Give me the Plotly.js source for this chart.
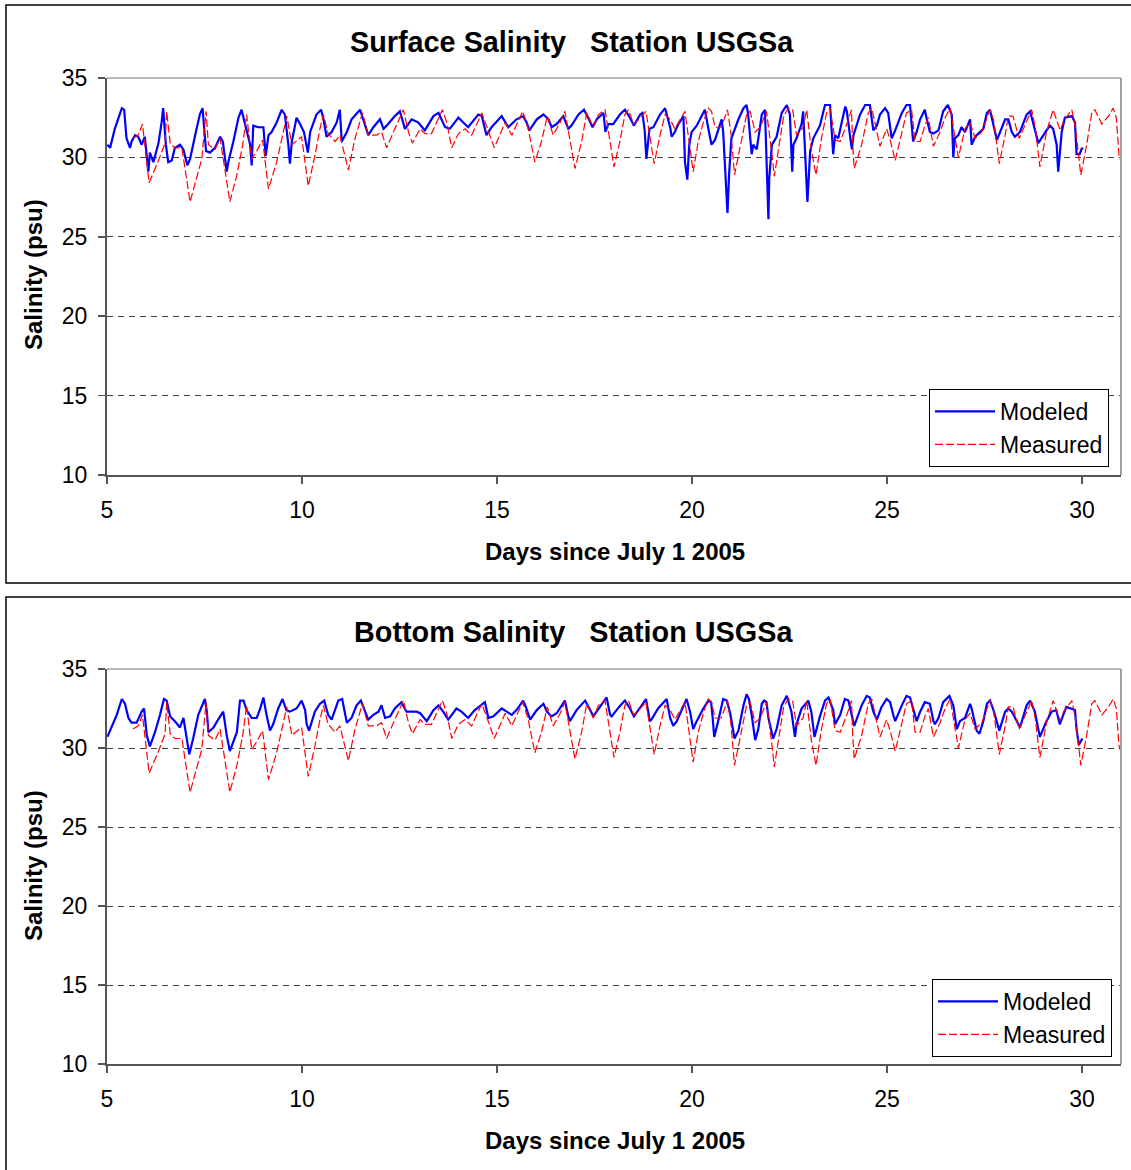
<!DOCTYPE html>
<html>
<head>
<meta charset="utf-8">
<script src="https://cdn.plot.ly/plotly-3.0.1.min.js"></script>
<style>html,body{margin:0;padding:0;background:#fff;}#chart{width:1131px;height:1170px;}</style>
</head>
<body>
<div id="chart"></div>
<script>
// ---- Data (days since July 1 2005, salinity psu) ----
// Measured salinity (identical record shown in both panels)
const measDay = [5.67,5.80,5.91,6.08,6.32,6.49,6.53,6.62,6.74,6.92,7.13,7.30,7.43,7.54,7.60,7.77,7.90,8.15,8.33,8.48,8.58,8.71,8.84,8.99,9.14,9.35,9.61,9.74,9.99,10.16,10.33,10.46,10.55,10.67,10.85,10.97,11.19,11.36,11.55,11.70,11.91,12.04,12.17,12.38,12.60,12.73,12.83,13.03,13.15,13.32,13.60,13.71,13.84,14.01,14.18,14.35,14.61,14.73,14.93,15.21,15.38,15.66,15.80,15.97,16.14,16.29,16.44,16.62,16.74,17.00,17.17,17.30,17.47,17.60,17.77,18.00,18.15,18.28,18.37,18.50,18.60,18.82,19.03,19.18,19.31,19.44,19.56,19.70,19.82,20.03,20.16,20.30,20.42,20.50,20.59,20.75,20.91,21.00,21.09,21.23,21.40,21.49,21.62,21.75,21.91,22.05,22.11,22.26,22.35,22.47,22.58,22.68,22.85,22.94,23.06,23.18,23.32,23.45,23.54,23.67,23.80,23.97,24.09,24.12,24.16,24.35,24.52,24.61,24.70,24.82,24.99,25.08,25.21,25.33,25.50,25.63,25.72,25.85,25.97,26.06,26.19,26.36,26.49,26.62,26.70,26.83,27.00,27.13,27.26,27.43,27.64,27.73,27.88,28.03,28.11,28.23,28.39,28.54,28.71,28.80,28.92,29.09,29.26,29.44,29.53,29.74,29.83,29.97,30.12,30.25,30.33,30.51,30.68,30.80,30.88,30.95,31.00];
const measSal = [31.2,31.4,32.1,28.4,29.8,30.9,32.9,30.9,30.6,30.6,27.2,28.7,29.9,32.9,30.8,30.5,31.2,27.2,28.9,30.8,32.7,29.9,30.4,31.1,28.0,29.7,32.6,30.8,31.3,28.2,30.1,31.8,32.7,31.5,31.0,31.4,29.2,31.2,32.8,31.4,31.4,31.6,30.6,31.8,33.0,31.6,30.9,31.8,31.5,31.5,33.0,32.2,30.6,31.5,31.8,31.4,32.8,32.0,30.6,32.2,31.4,32.9,31.8,29.7,31.0,32.6,31.4,32.2,32.9,29.3,31.0,32.8,31.9,32.7,33.0,29.4,31.0,32.7,33.0,32.1,32.3,32.9,29.6,31.4,32.7,32.4,31.8,32.4,32.9,29.1,31.0,32.3,33.1,32.9,31.9,31.9,33.0,31.5,28.9,30.6,32.7,32.9,31.6,31.9,32.9,30.2,28.8,31.2,32.6,33.1,33.0,31.4,31.9,33.0,30.5,28.9,31.2,32.8,33.1,31.1,31.0,32.1,33.0,30.8,29.3,30.8,32.8,33.1,32.0,30.7,31.8,31.1,29.8,31.0,32.8,33.0,31.0,31.0,32.0,32.5,30.7,31.6,32.5,33.1,32.0,30.0,31.8,32.2,31.2,31.6,33.0,32.4,29.6,31.4,32.6,32.6,31.2,32.0,33.0,31.9,29.4,31.6,33.0,31.7,32.3,33.0,31.9,28.9,30.8,32.8,33.0,32.1,32.6,33.1,32.5,30.1,29.8];

// Modeled surface salinity
const surfDay = [5.01,5.08,5.20,5.38,5.44,5.50,5.59,5.63,5.72,5.80,5.89,5.97,6.06,6.10,6.19,6.32,6.40,6.44,6.51,6.57,6.66,6.74,6.87,6.96,7.06,7.13,7.26,7.38,7.45,7.54,7.64,7.77,7.90,7.97,8.07,8.11,8.24,8.37,8.45,8.58,8.67,8.71,8.75,8.88,9.01,9.07,9.14,9.22,9.35,9.48,9.56,9.65,9.69,9.74,9.86,9.95,10.05,10.15,10.21,10.37,10.49,10.55,10.63,10.76,10.89,10.97,11.02,11.15,11.27,11.49,11.62,11.70,11.83,12.00,12.09,12.17,12.38,12.51,12.64,12.81,12.98,13.15,13.37,13.50,13.67,13.79,14.01,14.14,14.26,14.52,14.61,14.73,14.86,15.12,15.29,15.50,15.67,15.76,15.83,16.02,16.19,16.32,16.40,16.53,16.70,16.83,16.91,17.09,17.23,17.34,17.45,17.56,17.73,17.78,17.85,17.98,18.15,18.28,18.41,18.51,18.67,18.73,18.79,18.83,18.91,19.01,19.18,19.31,19.44,19.48,19.56,19.65,19.78,19.82,19.88,19.93,19.99,20.12,20.33,20.42,20.50,20.59,20.72,20.76,20.80,20.89,20.91,20.95,21.01,21.19,21.32,21.40,21.44,21.53,21.57,21.66,21.79,21.87,21.92,21.96,21.98,22.05,22.17,22.30,22.43,22.51,22.57,22.60,22.68,22.81,22.85,22.89,22.96,23.03,23.11,23.28,23.41,23.54,23.58,23.62,23.67,23.75,23.93,23.97,24.06,24.10,24.14,24.31,24.44,24.56,24.65,24.74,24.82,24.95,25.03,25.12,25.21,25.38,25.50,25.59,25.67,25.76,25.85,25.97,26.02,26.10,26.19,26.32,26.44,26.56,26.66,26.70,26.74,26.83,26.91,27.00,27.13,27.17,27.26,27.47,27.56,27.64,27.77,27.82,28.03,28.11,28.20,28.28,28.41,28.58,28.67,28.79,28.88,29.09,29.18,29.26,29.35,29.39,29.48,29.56,29.74,29.82,29.86,29.94,30.00,30.02];
const surfSal = [30.8,30.6,31.8,33.1,33.0,31.2,30.6,31.0,31.4,31.3,30.8,31.3,29.1,30.3,29.7,30.9,32.2,33.1,30.8,29.7,29.8,30.6,30.8,30.5,29.5,29.9,31.4,32.7,33.1,30.4,30.3,30.6,31.3,31.0,29.1,29.7,31.0,32.5,33.0,31.8,30.8,29.5,32.0,31.9,31.9,30.1,31.4,31.6,32.2,33.0,32.7,30.8,29.6,31.0,32.5,32.1,31.6,30.3,31.6,32.7,33.0,32.4,31.3,31.6,32.2,33.0,31.0,31.6,32.4,33.0,32.0,31.4,31.9,32.4,31.8,32.0,32.6,32.9,31.8,32.4,32.2,31.7,32.6,32.8,31.9,31.8,32.5,32.2,31.9,32.7,32.6,31.4,31.9,32.6,31.9,32.4,32.6,32.2,31.7,32.4,32.7,32.4,31.9,32.1,32.6,31.8,32.0,32.7,33.0,32.5,31.9,32.4,32.8,31.6,32.1,32.1,32.7,33.0,32.5,32.0,32.7,32.8,31.6,29.9,31.8,31.9,32.7,33.1,31.9,31.3,31.6,32.1,32.6,29.7,28.6,30.8,31.6,32.0,33.0,31.8,30.8,31.1,32.0,32.4,31.6,28.0,26.5,28.9,31.2,32.4,33.1,33.3,32.7,30.2,30.8,30.5,32.7,33.0,29.7,26.1,28.7,30.8,31.3,32.8,33.3,32.7,29.1,30.8,31.2,32.1,32.9,31.0,27.2,30.4,31.2,32.0,33.3,33.3,31.4,30.2,31.4,31.2,33.2,32.9,31.2,30.5,31.4,32.7,33.3,33.3,31.7,32.0,32.7,33.1,32.8,31.2,31.7,32.8,33.3,33.3,31.0,31.6,32.4,33.0,32.4,31.6,31.5,31.7,32.9,33.3,32.7,30.0,31.2,31.4,31.9,31.6,32.4,30.8,31.3,31.8,32.8,33.0,31.6,31.1,32.4,32.4,31.6,31.3,31.6,32.7,32.9,31.8,30.9,31.7,32.0,31.8,30.8,29.1,31.6,32.5,32.6,32.2,30.2,30.2,30.6,30.5];

// Modeled bottom salinity
const botDay = [5.01,5.25,5.38,5.46,5.55,5.63,5.76,5.89,5.95,6.02,6.10,6.23,6.36,6.46,6.53,6.62,6.74,6.87,6.96,7.04,7.11,7.21,7.34,7.51,7.56,7.60,7.73,7.85,7.98,8.07,8.15,8.33,8.41,8.50,8.58,8.71,8.84,8.93,9.01,9.09,9.18,9.26,9.39,9.50,9.60,9.69,9.86,9.99,10.08,10.12,10.18,10.33,10.46,10.57,10.67,10.76,10.93,11.03,11.10,11.15,11.27,11.40,11.51,11.62,11.70,11.83,11.96,12.04,12.13,12.26,12.38,12.55,12.68,12.77,12.94,13.03,13.20,13.37,13.50,13.62,13.75,13.96,14.09,14.26,14.43,14.69,14.78,14.91,15.12,15.25,15.38,15.50,15.67,15.74,15.85,16.02,16.19,16.28,16.40,16.53,16.74,16.83,16.87,17.04,17.26,17.39,17.47,17.64,17.81,17.90,17.94,18.13,18.28,18.41,18.51,18.71,18.82,18.92,18.96,19.13,19.35,19.44,19.52,19.61,19.78,19.86,19.95,20.03,20.12,20.29,20.42,20.49,20.53,20.57,20.67,20.80,20.89,20.98,21.09,21.19,21.32,21.40,21.46,21.53,21.62,21.70,21.79,21.85,21.91,21.96,22.08,22.17,22.30,22.43,22.55,22.64,22.68,22.81,22.98,23.06,23.14,23.28,23.41,23.50,23.62,23.67,23.80,23.92,24.01,24.10,24.16,24.35,24.48,24.56,24.65,24.74,24.86,24.99,25.08,25.16,25.21,25.38,25.50,25.59,25.67,25.76,25.85,25.97,26.10,26.19,26.23,26.32,26.44,26.60,26.70,26.79,26.87,27.00,27.13,27.17,27.30,27.37,27.47,27.56,27.64,27.73,27.88,28.03,28.11,28.20,28.33,28.41,28.58,28.67,28.79,28.92,29.09,29.22,29.34,29.43,29.52,29.60,29.82,29.86,29.92,30.01];
const botSal = [30.7,32.1,33.1,32.8,31.9,31.6,31.6,32.3,32.5,30.8,30.1,31.0,32.1,33.1,33.0,32.0,31.7,31.3,31.9,30.6,29.6,30.6,32.1,33.1,32.3,31.0,31.3,31.8,32.3,30.8,29.8,31.0,33.0,33.0,32.4,31.9,31.9,32.5,33.2,32.1,31.1,31.5,32.5,33.1,32.4,32.3,32.5,33.0,32.4,31.5,31.1,32.3,32.8,33.0,32.1,31.8,33.0,33.1,32.3,31.6,31.9,32.7,33.0,32.3,31.8,32.1,32.3,32.7,31.9,32.0,32.5,32.9,32.3,32.3,32.3,32.2,31.7,32.4,32.7,32.3,31.8,32.5,32.3,31.9,32.4,32.9,31.9,32.0,32.5,32.3,32.1,32.4,33.0,32.6,31.8,32.4,32.8,32.3,32.0,32.2,33.0,32.0,31.7,32.4,33.0,32.4,32.0,32.6,33.2,32.1,32.0,32.6,33.0,32.5,32.0,32.7,33.1,31.7,31.8,32.5,33.1,31.9,31.4,31.7,32.7,33.1,32.3,31.2,31.7,32.5,33.0,32.9,31.9,30.7,31.7,33.1,33.0,32.2,30.6,31.1,32.7,33.4,33.1,32.1,30.5,31.2,32.8,33.0,32.9,31.9,30.6,31.2,32.7,33.3,32.3,30.7,31.5,32.5,33.0,32.3,30.7,32.0,33.0,33.2,32.4,31.5,32.1,33.1,33.0,31.9,31.4,32.7,33.3,33.2,32.3,31.8,32.6,33.1,32.9,32.1,31.7,32.7,33.3,33.2,32.5,31.7,32.3,32.9,32.8,31.7,31.5,31.9,32.9,33.3,32.7,31.2,31.7,31.9,32.8,32.5,31.1,30.9,31.7,32.8,33.0,32.4,31.1,32.3,32.5,32.3,31.7,31.3,32.7,33.0,32.3,30.7,31.7,32.3,32.4,31.5,32.1,32.6,32.4,31.2,30.2,30.6];

// Axis ticks
const xTicks = [5, 10, 15, 20, 25, 30];
const yTicks = [10, 15, 20, 25, 30, 35];

// ---- Layout helpers (pixel -> paper) ----
const W = 1131, H = 1170;
const px = v => v / W;
const py = v => 1 - v / H;
const FONT = 'Liberation Sans, Arial, Helvetica, sans-serif';

const BLUE = '#0000ff', RED = '#ff0000';

const traces = [
  {x: surfDay, y: surfSal, type: 'scatter', mode: 'lines', name: 'Modeled',
   line: {color: BLUE, width: 2.2}, xaxis: 'x', yaxis: 'y', legend: 'legend'},
  {x: measDay, y: measSal, type: 'scatter', mode: 'lines', name: 'Measured',
   line: {color: RED, width: 1.2, dash: '8px,3px'}, xaxis: 'x', yaxis: 'y', legend: 'legend'},
  {x: botDay, y: botSal, type: 'scatter', mode: 'lines', name: 'Modeled',
   line: {color: BLUE, width: 2.2}, xaxis: 'x2', yaxis: 'y2', legend: 'legend2'},
  {x: measDay, y: measSal, type: 'scatter', mode: 'lines', name: 'Measured',
   line: {color: RED, width: 1.2, dash: '8px,3px'}, xaxis: 'x2', yaxis: 'y2', legend: 'legend2'}
];

function xAxis(anchor, dom) {
  return {
    domain: dom, anchor: anchor, range: [5, 31], tickmode: 'array', tickvals: xTicks,
    ticks: 'outside', ticklen: 7, tickwidth: 1.5, tickcolor: '#555',
    showline: true, linecolor: '#555', linewidth: 2, showgrid: false, zeroline: false,
    tickfont: {family: FONT, size: 23, color: '#000'}, ticklabelstandoff: 6
  };
}
function yAxis(anchor, dom) {
  return {
    domain: dom, anchor: anchor, range: [10, 35], tickmode: 'array', tickvals: yTicks,
    ticks: 'outside', ticklen: 7, tickwidth: 1.5, tickcolor: '#555',
    showline: true, linecolor: '#555', linewidth: 2, zeroline: false,
    showgrid: true, gridcolor: '#404040', gridwidth: 1, griddash: '6px,5px',
    tickfont: {family: FONT, size: 23, color: '#000'}, ticklabelstandoff: 6
  };
}

const xd = [px(107), px(1121)];
const topY = [py(475), py(78)];
const botY = [py(1064), py(669)];

const shapes = [
  // outer chart boxes
  {type: 'rect', xref: 'paper', yref: 'paper', x0: px(6), x1: 1.02, y0: py(583), y1: py(5),
   line: {color: '#000', width: 1.5}, layer: 'above'},
  {type: 'rect', xref: 'paper', yref: 'paper', x0: px(6), x1: 1.02, y0: -0.02, y1: py(597),
   line: {color: '#000', width: 1.5}, layer: 'above'},
  // plot-area top/right border (grey)
  {type: 'line', xref: 'paper', yref: 'paper', x0: xd[0], x1: xd[1], y0: topY[1], y1: topY[1],
   line: {color: '#a0a0a0', width: 1.5}, layer: 'above'},
  {type: 'line', xref: 'paper', yref: 'paper', x0: xd[1], x1: xd[1], y0: topY[0], y1: topY[1],
   line: {color: '#a0a0a0', width: 2}, layer: 'above'},
  {type: 'line', xref: 'paper', yref: 'paper', x0: xd[0], x1: xd[1], y0: botY[1], y1: botY[1],
   line: {color: '#a0a0a0', width: 1.5}, layer: 'above'},
  {type: 'line', xref: 'paper', yref: 'paper', x0: xd[1], x1: xd[1], y0: botY[0], y1: botY[1],
   line: {color: '#a0a0a0', width: 2}, layer: 'above'}
];

const NB = '\u00a0\u00a0\u00a0';
function ann(text, x, y, size, angle) {
  return {text: text, xref: 'paper', yref: 'paper', x: x, y: y, xanchor: 'center', yanchor: 'middle',
          showarrow: false, textangle: angle || 0, font: {family: FONT, size: size, color: '#000'}};
}
const annotations = [
  ann('<b>Surface Salinity' + NB + 'Station USGSa</b>', px(572), py(42), 28.8),
  ann('<b>Bottom Salinity' + NB + 'Station USGSa</b>', px(573), py(632), 28.8),
  ann('<b>Days since July 1 2005</b>', px(615), py(551), 24),
  ann('<b>Days since July 1 2005</b>', px(615), py(1140), 24),
  ann('<b>Salinity (psu)</b>', px(33), py(275), 24, -90),
  ann('<b>Salinity (psu)</b>', px(33), py(866), 24, -90)
];

function legendCfg(x, y) {
  return {x: x, y: y, xref: 'paper', yref: 'paper', xanchor: 'left', yanchor: 'top',
          bgcolor: '#fff', bordercolor: '#000', borderwidth: 1,
          font: {family: FONT, size: 23, color: '#000'}, itemwidth: 60, tracegroupgap: 0};
}

const layout = {
  width: W, height: H, margin: {l: 0, r: 0, t: 0, b: 0},
  paper_bgcolor: '#fff', plot_bgcolor: '#fff', font: {family: FONT, color: '#000'},
  showlegend: true,
  xaxis: xAxis('y', xd), yaxis: yAxis('x', topY),
  xaxis2: xAxis('y2', xd), yaxis2: yAxis('x2', botY),
  legend: legendCfg(px(929), py(389)),
  legend2: legendCfg(px(932), py(979)),
  shapes: shapes, annotations: annotations
};

Plotly.newPlot('chart', traces, layout, {displayModeBar: false, staticPlot: true});
</script>
</body>
</html>
